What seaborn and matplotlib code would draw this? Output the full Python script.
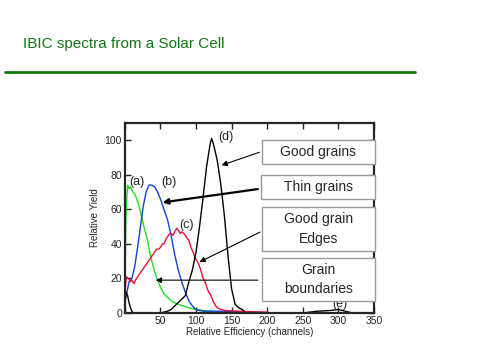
import pandas as pd
import matplotlib.pyplot as plt
import matplotlib.patches as patches
import seaborn as sns

# 曲线数据
a_x = [0, 1, 2, 4, 6, 8, 10, 15, 20, 24, 28, 32, 35, 38, 42, 46, 50, 55, 60, 67, 75, 90, 100, 120, 150]
a_y = [0, 40, 62, 74, 72, 73, 71, 68, 62, 55, 48, 42, 35, 30, 24, 19, 15, 11, 9, 6.5, 5, 3, 2, 1, 0.5]

b_x = [0, 1, 3, 6, 10, 14, 18, 22, 26, 30, 34, 38, 42, 46, 50, 55, 60, 65, 70, 75, 80, 85, 90, 95, 100, 110, 120, 140, 180]
b_y = [0, 8, 12, 18, 20, 27, 38, 50, 62, 70, 74, 74, 73, 70, 66, 60, 54, 45, 34, 25, 18, 12, 7, 4, 2, 1, 1, 1, 0.5]

c_x = [0, 1, 2, 5, 8, 10, 13, 15, 18, 20, 23, 25, 28, 30, 33, 35, 38, 40, 43, 45, 48, 50, 53, 55, 58, 60, 63, 65,
       68, 70, 73, 75, 78, 80, 83, 85, 88, 90, 93, 95, 98, 100, 103, 105, 108, 110, 113, 115, 118, 120, 123, 125,
       128, 130, 135, 140, 160, 200]
c_y = [0, 15, 21, 20, 18, 19, 17, 19, 21, 22, 24, 25, 27, 28, 30, 31, 33, 34, 36, 37, 37, 38, 40, 40, 43, 44, 46, 46,
       45, 47, 49, 48, 46, 47, 46, 45, 43, 42, 38, 36, 33, 31, 29, 27, 23, 20, 18, 15, 12, 11, 8, 6,
       4, 3, 2, 1.5, 1, 0.5]

d_x = [0, 1, 2, 4, 6, 8, 10, 12, 45, 50, 55, 60, 65, 70, 75, 80, 85, 90, 95, 100, 105, 110, 115, 120, 122, 125,
       130, 135, 140, 145, 150, 155, 160, 165, 170, 250, 270, 290, 300, 310, 320, 350]
d_y = [0, 10, 12, 10, 6, 3, 1, 0, 0, 0, 0.5, 1, 2, 4, 6, 8, 10, 18, 25, 35, 50, 67, 85, 98, 101, 97,
       88, 74, 56, 33, 14, 5, 3, 2, 0, 0, 1, 1.5, 2, 1, 0, 0]

series = [('a', a_x, a_y, '#22dd22'), ('b', b_x, b_y, '#1144dd'),
          ('c', c_x, c_y, '#ee1133'), ('d', d_x, d_y, 'black')]

curve_labels = ['(a)', '(b)', '(c)', '(d)', '(e)']
box_texts = ['Good grains', 'Thin grains', 'Good grain\nEdges', 'Grain\nboundaries']

sns.set_style('ticks')
plt.rcParams['font.family'] = ['Liberation Sans', 'DejaVu Sans']

fig = plt.figure(figsize=(4.8, 3.6), dpi=100)
ax = fig.add_axes([0.260, 0.1306, 0.519, 0.528])

for name, xs, ys, col in series:
    df = pd.DataFrame({'x': xs, 'y': ys})
    sns.lineplot(data=df, x='x', y='y', ax=ax, color=col, linewidth=1.0,
                 estimator=None, sort=False)

ax.set_xlim(0, 350)
ax.set_ylim(0, 110)
ax.set_xticks(range(0, 351, 50))
ax.set_xticklabels(['', '50', '100', '150', '200', '250', '300', '350'])
ax.set_yticks(range(0, 101, 20))
ax.tick_params(direction='in', labelsize=7.5, length=4, width=1, top=True, right=True, pad=2)
for s in ax.spines.values():
    s.set_linewidth(1.6)
ax.set_xlabel('Relative Efficiency (channels)', fontsize=7, labelpad=1)
ax.set_ylabel('Relative Yield', fontsize=7, labelpad=3)

# 曲线标记
lab_pos = [(17, 76), (62, 76), (87, 51), (142, 102), (302, 5)]
for t, (lx, ly) in zip(curve_labels, lab_pos):
    ax.text(lx, ly, t, fontsize=9, ha='center', va='center')

# 说明框
boxes = [(192.6, 86.1, 100.0), (191.9, 65.9, 79.8), (192.6, 35.8, 61.3), (192.6, 6.9, 31.8)]
for t, (bx, y0, y1) in zip(box_texts, boxes):
    ax.add_patch(patches.Rectangle((bx, y0), 351.5 - bx, y1 - y0, facecolor='white',
                                   edgecolor='#999999', linewidth=1, clip_on=False, zorder=5))
    ax.text((bx + 351.5) / 2, (y0 + y1) / 2, t, fontsize=10, ha='center', va='center',
            linespacing=1.5, zorder=6)

arrows = [((189, 93), (136, 85.5), 0.8), ((187, 71.7), (53, 64), 1.6),
          ((190, 46.8), (105, 29.5), 0.8), ((187, 19), (43.6, 19), 0.8)]
for (sx, sy), (ex, ey), lw in arrows:
    ax.annotate('', xy=(ex, ey), xytext=(sx, sy),
                arrowprops=dict(arrowstyle='-|>', color='black', lw=lw,
                                mutation_scale=8, shrinkA=0, shrinkB=0), zorder=4)

# 标题和横线
fig.text(23 / 480, 1 - 44 / 360, 'IBIC spectra from a Solar Cell', color='#117711',
         fontsize=11, ha='left', va='center')
fig.add_artist(plt.Line2D([5 / 480, 415 / 480], [1 - 72 / 360, 1 - 72 / 360],
                          color='#117711', linewidth=2))

plt.savefig('out.png', dpi=100)
